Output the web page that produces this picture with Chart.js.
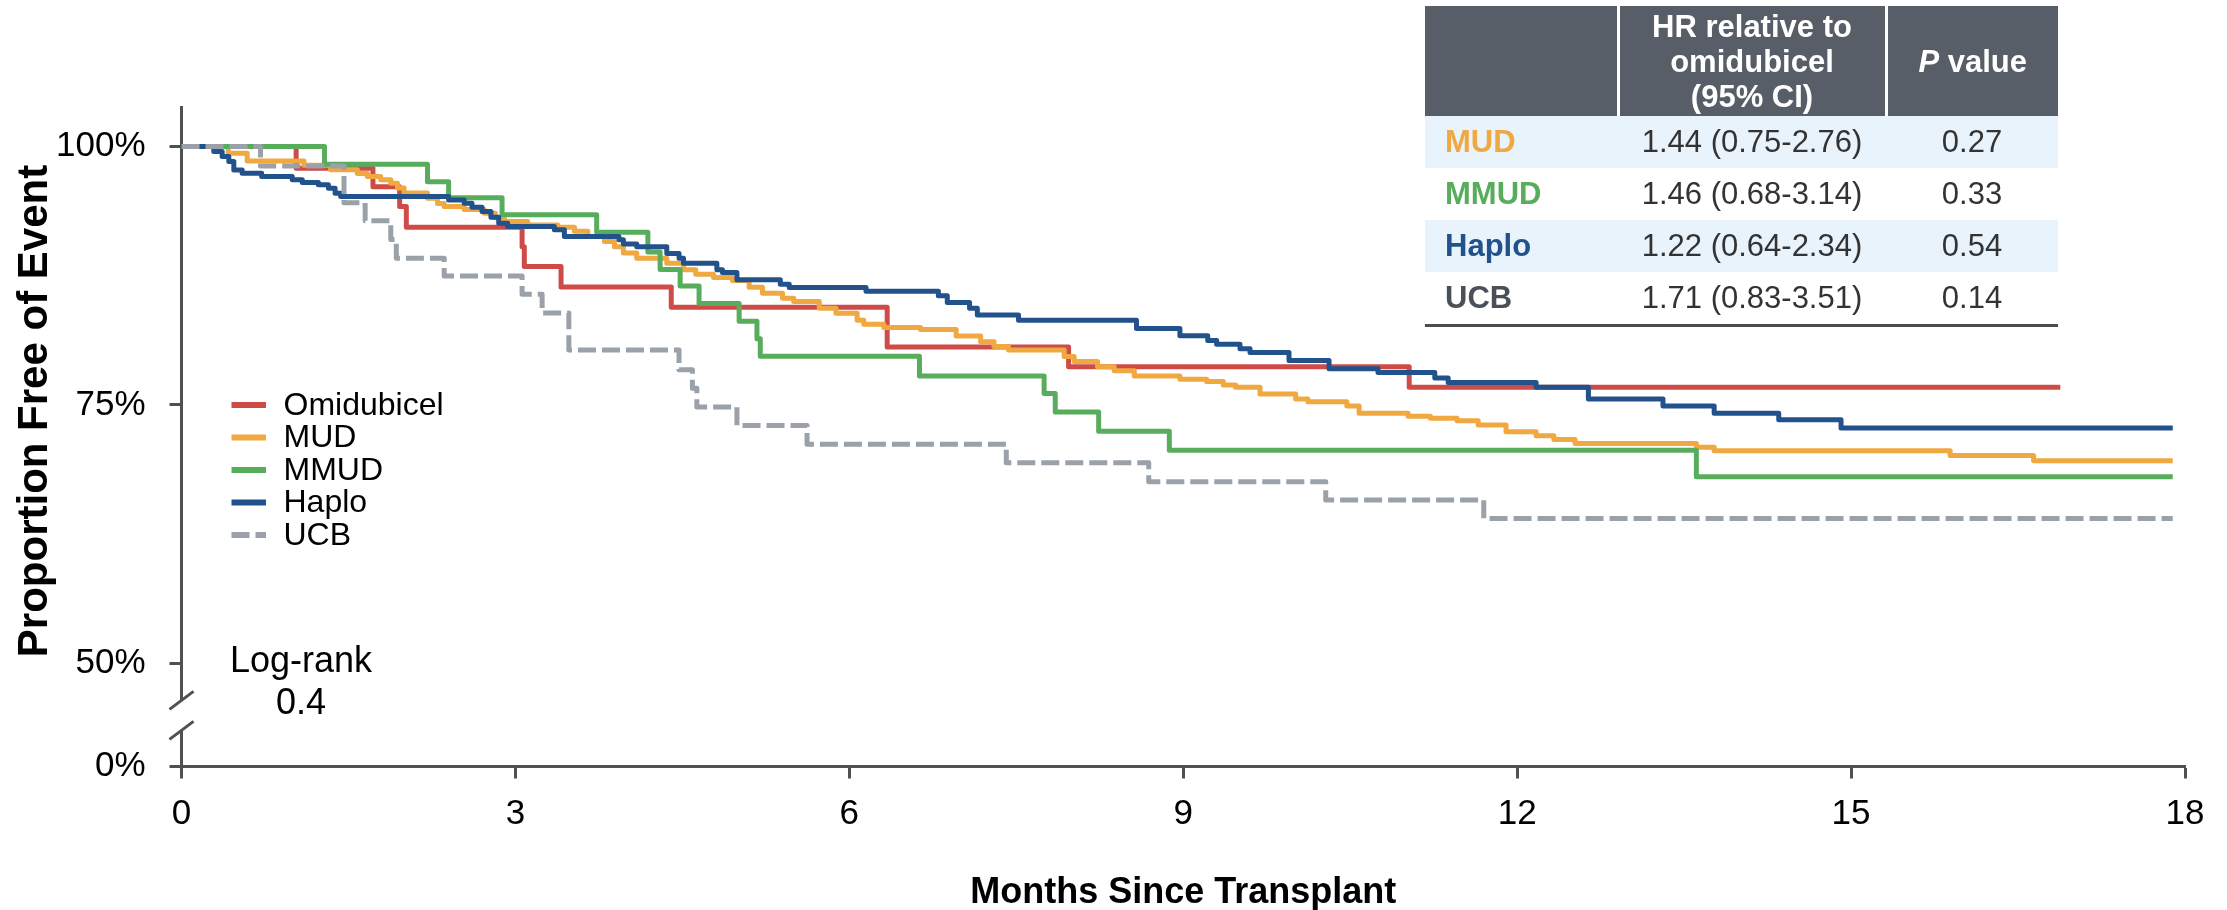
<!DOCTYPE html>
<html>
<head>
<meta charset="utf-8">
<script src="https://cdn.jsdelivr.net/npm/chart.js@4.4.1/dist/chart.umd.min.js"></script>
<style>
html,body{margin:0;padding:0;background:#fff;}
#wrap{position:relative;width:2227px;height:910px;overflow:hidden;font-family:'Liberation Sans',Arial,sans-serif;}
#c{position:absolute;left:0;top:0;}
#hr{position:absolute;left:1425px;top:6px;width:633px;border-collapse:collapse;table-layout:fixed;font-size:31px;font-family:'Liberation Sans',Arial,sans-serif;}
#hr th{background:#575e67;color:#fff;font-weight:bold;height:110px;line-height:35px;padding:0;vertical-align:middle;text-align:center;}
#hr th + th{border-left:3px solid #fff;}
#hr td{height:52px;padding:0;vertical-align:middle;text-align:center;color:#333;}
#hr td.lbl{text-align:left;padding-left:20px;font-weight:bold;}
#hr tr.alt td{background:#e8f3fc;}
#hr tbody tr:last-child td{border-bottom:3px solid #4d4d4d;}
</style>
</head>
<body>
<div id="wrap">
<canvas id="c" width="2227" height="910"></canvas>
<table id="hr">
<colgroup><col style="width:193px"><col style="width:268px"><col style="width:172px"></colgroup>
<thead><tr><th></th><th>HR relative to<br>omidubicel<br>(95% CI)</th><th><i>P</i> value</th></tr></thead>
<tbody id="hrBody"></tbody>
</table>
</div>
<script>
// ---------------- DATA ----------------
const seriesNames = ['Omidubicel', 'MUD', 'MMUD', 'Haplo', 'UCB'];

const omiT = [0, 1.03, 1.72, 1.96, 2.02, 3.06, 3.08, 3.41, 4.40, 6.34, 7.97, 11.03, 16.88];
const omiS = [100, 97.9, 96.1, 94.2, 92.2, 90.3, 88.4, 86.4, 84.45, 80.6, 78.7, 76.7, 76.7];

const mudT = [0, 0.42, 0.59, 1.10, 1.34, 1.58, 1.67, 1.79, 1.88, 1.94, 2.00, 2.21, 2.30, 2.36, 2.54, 2.72, 2.82, 2.90, 3.11, 3.38, 3.53, 3.65, 3.80, 3.89, 3.97, 4.09, 4.36, 4.51, 4.62, 4.78, 4.95, 5.10, 5.22, 5.40, 5.50, 5.73, 5.88, 6.07, 6.13, 6.31, 6.64, 6.96, 7.18, 7.30, 7.43, 7.93, 8.02, 8.23, 8.38, 8.56, 8.97, 9.21, 9.36, 9.47, 9.69, 10.01, 10.12, 10.47, 10.58, 11.02, 11.22, 11.46, 11.65, 11.90, 12.17, 12.33, 12.52, 13.61, 13.77, 15.89, 16.64, 17.89];
const mudS = [100, 99.35, 98.6, 98.2, 97.75, 97.4, 97.1, 96.8, 96.45, 96.0, 95.5, 95.0, 94.5, 94.2, 93.9, 93.55, 93.1, 92.75, 92.4, 92.2, 91.8, 91.3, 90.8, 90.3, 89.7, 89.2, 88.7, 88.07, 87.65, 87.33, 87.03, 86.39, 85.81, 85.32, 85.0, 84.35, 83.87, 83.2, 82.8, 82.5, 82.3, 81.67, 81.12, 80.64, 80.3, 79.67, 79.2, 78.7, 78.3, 77.8, 77.47, 77.25, 76.92, 76.7, 76.05, 75.57, 75.3, 74.9, 74.2, 73.9, 73.7, 73.47, 73.05, 72.4, 72.0, 71.66, 71.27, 70.9, 70.55, 70.1, 69.6, 69.6];

const mmudT = [0, 1.285, 2.21, 2.40, 2.88, 3.73, 4.19, 4.30, 4.48, 4.65, 5.01, 5.17, 5.20, 6.63, 7.75, 7.85, 8.24, 8.875, 13.61, 17.89];
const mmudS = [100, 98.3, 96.6, 95.05, 93.4, 91.7, 89.8, 88.1, 86.5, 84.8, 83.1, 81.4, 79.7, 77.8, 76.1, 74.3, 72.45, 70.6, 68.05, 68.05];

const haploT = [0, 0.29, 0.365, 0.425, 0.47, 0.545, 0.72, 0.995, 1.085, 1.23, 1.32, 1.38, 1.43, 2.40, 2.54, 2.61, 2.70, 2.78, 2.85, 2.93, 3.35, 3.44, 3.93, 3.97, 4.09, 4.36, 4.47, 4.51, 4.81, 4.86, 4.99, 5.38, 5.46, 6.15, 6.80, 6.88, 7.08, 7.15, 7.52, 8.58, 8.97, 9.22, 9.30, 9.51, 9.60, 9.95, 10.31, 10.75, 11.26, 11.38, 12.17, 12.64, 13.31, 13.77, 14.35, 14.91, 17.89];
const haploS = [100, 99.52, 99.03, 98.55, 97.74, 97.42, 97.1, 96.78, 96.52, 96.3, 95.97, 95.49, 95.16, 94.84, 94.52, 94.13, 93.71, 93.16, 92.58, 92.26, 91.94, 91.29, 90.97, 90.58, 90.3, 89.66, 89.2, 88.7, 88.07, 87.8, 87.1, 86.68, 86.36, 86.0, 85.55, 84.9, 84.35, 83.7, 83.2, 82.4, 81.68, 81.23, 80.87, 80.42, 80.07, 79.3, 78.5, 78.13, 77.6, 77.16, 76.7, 75.57, 74.9, 74.2, 73.55, 72.75, 72.75];

const ucbT = [0, 0.71, 1.46, 1.65, 1.88, 1.93, 2.36, 3.06, 3.24, 3.48, 4.47, 4.59, 4.63, 4.99, 5.62, 7.41, 8.69, 10.28, 11.70, 17.89];
const ucbS = [100, 98.13, 94.57, 92.83, 91.0, 89.2, 87.47, 85.7, 83.9, 80.3, 78.4, 76.6, 74.8, 73.0, 71.2, 69.4, 67.56, 65.8, 64.0, 64.0];

const xTickValues = [0, 3, 6, 9, 12, 15, 18];
const yTickLabels = ['0%', '50%', '75%', '100%'];
const yTickPercents = [0, 50, 75, 100];

const tableGroups = ['MUD', 'MMUD', 'Haplo', 'UCB'];
const tableHR = ['1.44 (0.75-2.76)', '1.46 (0.68-3.14)', '1.22 (0.64-2.34)', '1.71 (0.83-3.51)'];
const tableP = ['0.27', '0.33', '0.54', '0.14'];
const logRankLabel = 'Log-rank';
const logRankP = '0.4';

// ---------------- STYLE ----------------
const colors = {Omidubicel: '#cf4b48', MUD: '#f0a840', MMUD: '#58ad5c', Haplo: '#22528c', UCB: '#9aa1a9'};
const tableLabelColors = {MUD: '#f0a840', MMUD: '#58ad5c', Haplo: '#22528c', UCB: '#4a5058'};
const axisColor = '#505050';
const FONT = "'Liberation Sans', Arial, sans-serif";
// broken axis: 0% is drawn just below the break, at axis value 40
const ZERO_AXIS_POS = 40;
const BREAK_UPPER = 46.4, BREAK_LOWER = 43.5;
const toAxis = p => (p >= 50 ? p : ZERO_AXIS_POS);

// ---------------- TABLE ----------------
const tb = document.getElementById('hrBody');
tableGroups.forEach((g, i) => {
  const tr = document.createElement('tr');
  if (i % 2 === 0) tr.className = 'alt';
  const a = document.createElement('td'); a.className = 'lbl'; a.textContent = g; a.style.color = tableLabelColors[g];
  const b = document.createElement('td'); b.textContent = tableHR[i];
  const c = document.createElement('td'); c.textContent = tableP[i];
  tr.append(a, b, c); tb.appendChild(tr);
});

// ---------------- CHART ----------------
function kmPoints(times, surv) {
  const pts = [{x: times[0], y: surv[0]}];
  for (let i = 1; i < times.length; i++) {
    if (surv[i] !== surv[i - 1]) pts.push({x: times[i], y: surv[i - 1]});
    pts.push({x: times[i], y: surv[i]});
  }
  return pts;
}
const seriesData = {
  Omidubicel: [omiT, omiS], MUD: [mudT, mudS], MMUD: [mmudT, mmudS], Haplo: [haploT, haploS], UCB: [ucbT, ucbS]
};
const drawOrder = {UCB: 0, Haplo: 1, MMUD: 2, MUD: 3, Omidubicel: 4};

const datasets = seriesNames.map(n => ({
  label: n,
  data: kmPoints(seriesData[n][0], seriesData[n][1]),
  borderColor: colors[n],
  backgroundColor: colors[n],
  borderWidth: 5,
  borderDash: n === 'UCB' ? [18, 6] : [],
  borderJoinStyle: 'round',
  borderCapStyle: 'butt',
  pointRadius: 0,
  fill: false,
  tension: 0,
  order: drawOrder[n]
}));

const overlay = {
  id: 'overlay',
  afterDraw(chart) {
    const ctx = chart.ctx, ys = chart.scales.y, area = chart.chartArea;
    ctx.save();
    // axis break
    const xA = area.left;
    const y1 = ys.getPixelForValue(BREAK_UPPER), y2 = ys.getPixelForValue(BREAK_LOWER);
    ctx.fillStyle = '#fff';
    ctx.fillRect(xA - 5, y1, 10, y2 - y1);
    ctx.strokeStyle = axisColor; ctx.lineWidth = 3; ctx.lineCap = 'butt';
    [y1, y2].forEach(yy => { ctx.beginPath(); ctx.moveTo(xA - 12, yy + 9); ctx.lineTo(xA + 12, yy - 9); ctx.stroke(); });

    // legend
    const lx0 = xA + 50, lx1 = xA + 84.5, tx = xA + 102;
    ctx.font = '32px ' + FONT; ctx.textBaseline = 'middle'; ctx.textAlign = 'left';
    chart.data.datasets.forEach((ds, i) => {
      const yy = 405 + i * 32.5;
      ctx.beginPath(); ctx.setLineDash(ds.borderDash || []);
      ctx.strokeStyle = ds.borderColor; ctx.lineWidth = 6;
      ctx.moveTo(lx0, yy); ctx.lineTo(lx1, yy); ctx.stroke();
      ctx.setLineDash([]);
      ctx.fillStyle = '#000'; ctx.fillText(ds.label, tx, yy + 1);
    });

    // log-rank
    ctx.font = '36px ' + FONT; ctx.textAlign = 'center'; ctx.fillStyle = '#000';
    ctx.fillText(logRankLabel, 301, 662);
    ctx.fillText(logRankP, 301, 704);

    // y title
    ctx.translate(47, 411);
    ctx.rotate(-Math.PI / 2);
    ctx.font = 'bold 42px ' + FONT; ctx.textBaseline = 'alphabetic'; ctx.textAlign = 'center';
    ctx.fillText('Proportion Free of Event', 0, 0);
    ctx.restore();
  }
};

new Chart(document.getElementById('c'), {
  type: 'line',
  data: {datasets},
  options: {
    responsive: false,
    devicePixelRatio: 1,
    animation: false,
    events: [],
    layout: {padding: {top: 107.3, right: 42, bottom: 0, left: 0}},
    plugins: {legend: {display: false}, tooltip: {enabled: false}},
    scales: {
      x: {
        type: 'linear', min: 0, max: 18,
        afterFit(s) { s.height = 910 - 766.5; },
        afterBuildTicks(s) { s.ticks = xTickValues.map(v => ({value: v})); },
        border: {display: true, color: axisColor, width: 3},
        grid: {display: true, drawOnChartArea: false, drawTicks: true, tickLength: 12, tickWidth: 3, tickColor: axisColor},
        ticks: {font: {family: FONT, size: 35}, color: '#000', padding: 15, maxRotation: 0, autoSkip: false},
        title: {display: true, text: 'Months Since Transplant', color: '#000', font: {family: FONT, size: 36, weight: 'bold'}, padding: {top: 0, bottom: -5}}
      },
      y: {
        type: 'linear', min: ZERO_AXIS_POS, max: 103.8,
        afterFit(s) { s.width = 181.5; },
        afterBuildTicks(s) { s.ticks = yTickPercents.map(p => ({value: toAxis(p)})); },
        border: {display: true, color: axisColor, width: 3},
        grid: {display: true, drawOnChartArea: false, drawTicks: true, tickLength: 12, tickWidth: 3, tickColor: axisColor},
        ticks: {
          font: {family: FONT, size: 35}, color: '#000', padding: 24, autoSkip: false,
          callback(v) { const i = yTickPercents.findIndex(p => toAxis(p) === v); return i >= 0 ? yTickLabels[i] : ''; }
        }
      }
    }
  },
  plugins: [overlay]
});
</script>
</body>
</html>
